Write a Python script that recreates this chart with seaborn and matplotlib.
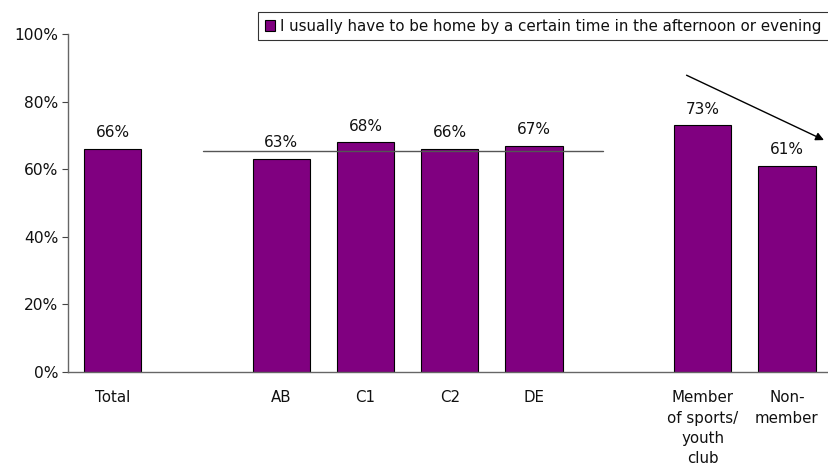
import numpy as np
import pandas as pd
import matplotlib
matplotlib.use('Agg')
import matplotlib.pyplot as plt
import seaborn as sns
from matplotlib.patches import Patch

sns.set_style('white')
plt.rcParams['font.family'] = ['DejaVu Sans']
plt.rcParams['text.color'] = '#111111'
plt.rcParams['xtick.color'] = '#111111'
plt.rcParams['ytick.color'] = '#111111'

# slots along the x axis (blank entries are spacers between groups)
slots = ['Total', ' ', 'AB', 'C1', 'C2', 'DE', '  ',
         'Member\nof sports/\nyouth\nclub', 'Non-\nmember']
groups = ['Total', 'AB', 'C1', 'C2', 'DE',
          'Member\nof sports/\nyouth\nclub', 'Non-\nmember']
values = [66, 63, 68, 66, 67, 73, 61]
series_name = 'I usually have to be home by a certain time in the afternoon or evening'
bar_color = '#800080'
avg_line = 65.4
yticks = [0, 20, 40, 60, 80, 100]

df = pd.DataFrame({'group': groups, 'value': values})

fig = plt.figure(figsize=(8.29, 4.68), dpi=100)
ax = fig.add_axes([0.082, 0.205, 0.918, 0.722])

sns.barplot(data=df, x='group', y='value', order=slots, color=bar_color,
            width=0.68, edgecolor='black', linewidth=0.8, saturation=1, ax=ax)

for i, g in enumerate(slots):
    if g in groups:
        v = values[groups.index(g)]
        ax.text(i, v + 2.6, f'{v}%', ha='center', va='bottom', fontsize=11)

# reference line across the social grade bars
ax.plot([1.07, 5.82], [avg_line, avg_line], color='#555555', linewidth=1.0)

# arrow over the membership bars
ax.annotate('', xy=(8.47, 68.3), xytext=(6.78, 88.2),
            arrowprops=dict(arrowstyle='-|>', color='black', lw=1.0,
                            mutation_scale=12),
            annotation_clip=False)

ax.set_xlim(-0.53, 8.5)
ax.set_ylim(0, 100)
ax.set_yticks(yticks)
ax.set_yticklabels([f'{t}%' for t in yticks], fontsize=11.2)
ax.tick_params(axis='y', length=4, color='#444444', direction='out', left=True,
               pad=3)
ax.tick_params(axis='x', length=0, pad=13, labelsize=10.8)
for lbl in ax.get_xticklabels():
    lbl.set_linespacing(1.45)
ax.set_xlabel('')
ax.set_ylabel('')
for side in ['top', 'right']:
    ax.spines[side].set_visible(False)
for side in ['left', 'bottom']:
    ax.spines[side].set_color('#666666')
    ax.spines[side].set_linewidth(1.0)

handle = Patch(facecolor=bar_color, edgecolor='black', linewidth=0.8)
leg = fig.legend([handle], [series_name], loc='upper right',
                 bbox_to_anchor=(0.9995, 0.975), frameon=True, fancybox=False,
                 edgecolor='black', fontsize=10.9, handlelength=0.7,
                 handleheight=0.7, handletextpad=0.35, borderpad=0.45,
                 borderaxespad=0)
leg.get_frame().set_linewidth(0.8)

fig.savefig('out.png', dpi=100)
